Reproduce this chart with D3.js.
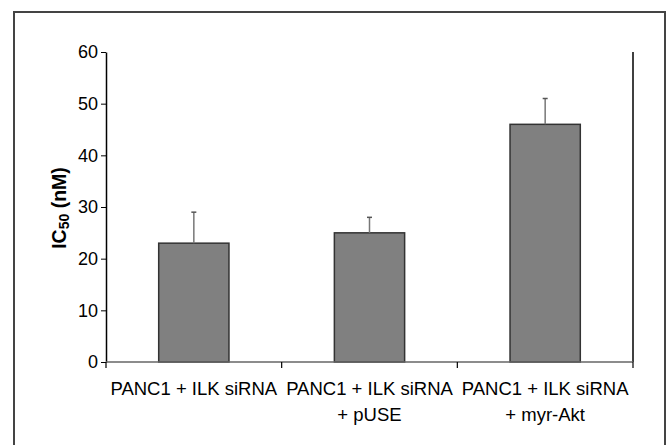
<!DOCTYPE html>
<html>
<head>
<meta charset="utf-8">
<script src="https://cdn.jsdelivr.net/npm/d3@7"></script>
<style>
  body { margin: 0; background: #fff; }
  svg text { font-family: "Liberation Sans", Arial, sans-serif; }
</style>
</head>
<body>
<div id="chart"></div>
<script>
// data
var groups = ["PANC1 + ILK siRNA", "PANC1 + ILK siRNA|+ pUSE", "PANC1 + ILK siRNA|+ myr-Akt"];
var ic50 = [23, 25, 46];
var ic50Err = [6, 3, 5];
var yTicks = [0, 10, 20, 30, 40, 50, 60];

var width = 669, height = 445;
// plot area edges (note: "top" is taken by window.top)
var pLeft = 106, pRight = 633, pTop = 52, pBottom = 362;

var svg = d3.select("#chart")
	.append("svg")
	.attr("width", width)
	.attr("height", height);

// outer frame (bottom edge is cut off in the original)
svg.append("path")
	.attr("d", "M14,446 L14,12 L665,12 L665,446")
	.attr("fill", "none")
	.attr("stroke", "#444")
	.attr("stroke-width", 2);

var x = d3.scaleBand()
	.domain(groups)
	.range([pLeft, pRight])
	.paddingInner(0.6)
	.paddingOuter(0.3);

var y = d3.scaleLinear()
	.domain([0, 60])
	.range([pBottom, pTop]);

// bars
svg.selectAll("rect.bar")
	.data(groups)
	.enter()
	.append("rect")
	.attr("class", "bar")
	.attr("x", function(d) { return x(d); })
	.attr("y", function(d, i) { return y(ic50[i]); })
	.attr("width", x.bandwidth())
	.attr("height", function(d, i) { return y(0) - y(ic50[i]); })
	.attr("fill", "#808080")
	.attr("stroke", "#333")
	.attr("stroke-width", 1.5);

// error bars, upper half only
groups.forEach(function(g, i)
{
	var cx = x(g) + x.bandwidth() / 2;
	svg.append("line")
		.attr("x1", cx).attr("x2", cx)
		.attr("y1", y(ic50[i])).attr("y2", y(ic50[i] + ic50Err[i]))
		.attr("stroke", "#777")
		.attr("stroke-width", 1.5);
	svg.append("line")
		.attr("x1", cx - 2.5).attr("x2", cx + 2.5)
		.attr("y1", y(ic50[i] + ic50Err[i])).attr("y2", y(ic50[i] + ic50Err[i]))
		.attr("stroke", "#555")
		.attr("stroke-width", 1.5);
});

// y axis
var yAxis = svg.append("g")
	.attr("transform", "translate(" + pLeft + ",0)")
	.call(d3.axisLeft(y).tickValues(yTicks).tickSize(5).tickSizeOuter(0).tickPadding(3));
yAxis.select(".domain").attr("stroke", "#000").attr("stroke-width", 1.5);
yAxis.selectAll(".tick line").attr("stroke", "#000");
yAxis.selectAll("text")
	.attr("font-size", 18)
	.attr("fill", "#000")
	.attr("font-family", "Liberation Sans, Arial, sans-serif");

// right border of plot area
svg.append("line")
	.attr("x1", pRight).attr("x2", pRight)
	.attr("y1", pTop).attr("y2", pBottom)
	.attr("stroke", "#000")
	.attr("stroke-width", 1.5);

// x baseline with ticks between categories
svg.append("line")
	.attr("x1", pLeft).attr("x2", pRight)
	.attr("y1", pBottom).attr("y2", pBottom)
	.attr("stroke", "#666")
	.attr("stroke-width", 1.5);

var bounds = d3.range(groups.length + 1).map(function(k) { return pLeft + k * (pRight - pLeft) / groups.length; });
svg.selectAll("line.xtick")
	.data(bounds)
	.enter()
	.append("line")
	.attr("class", "xtick")
	.attr("x1", function(d) { return d; })
	.attr("x2", function(d) { return d; })
	.attr("y1", pBottom)
	.attr("y2", pBottom + 6)
	.attr("stroke", "#000")
	.attr("stroke-width", 1.2);

// category labels
groups.forEach(function(g)
{
	var cx = x(g) + x.bandwidth() / 2;
	var lines = g.split("|");
	var t = svg.append("text")
		.attr("x", cx)
		.attr("y", 395)
		.attr("text-anchor", "middle")
		.attr("font-size", 18.5)
		.attr("fill", "#000");
	lines.forEach(function(l, j)
	{
		t.append("tspan")
			.attr("x", cx)
			.attr("dy", j == 0 ? 0 : 26)
			.text(l);
	});
});

// y axis title
var yt = svg.append("text")
	.attr("transform", "translate(66," + ((pTop + pBottom) / 2 + 1) + ") rotate(-90)")
	.attr("text-anchor", "middle")
	.attr("font-size", 19.5)
	.attr("font-weight", "bold")
	.attr("fill", "#000");
yt.append("tspan").text("IC");
yt.append("tspan").attr("font-size", 14).attr("dy", 3).text("50");
yt.append("tspan").attr("dy", -3).text(" (nM)");
</script>
</body>
</html>
